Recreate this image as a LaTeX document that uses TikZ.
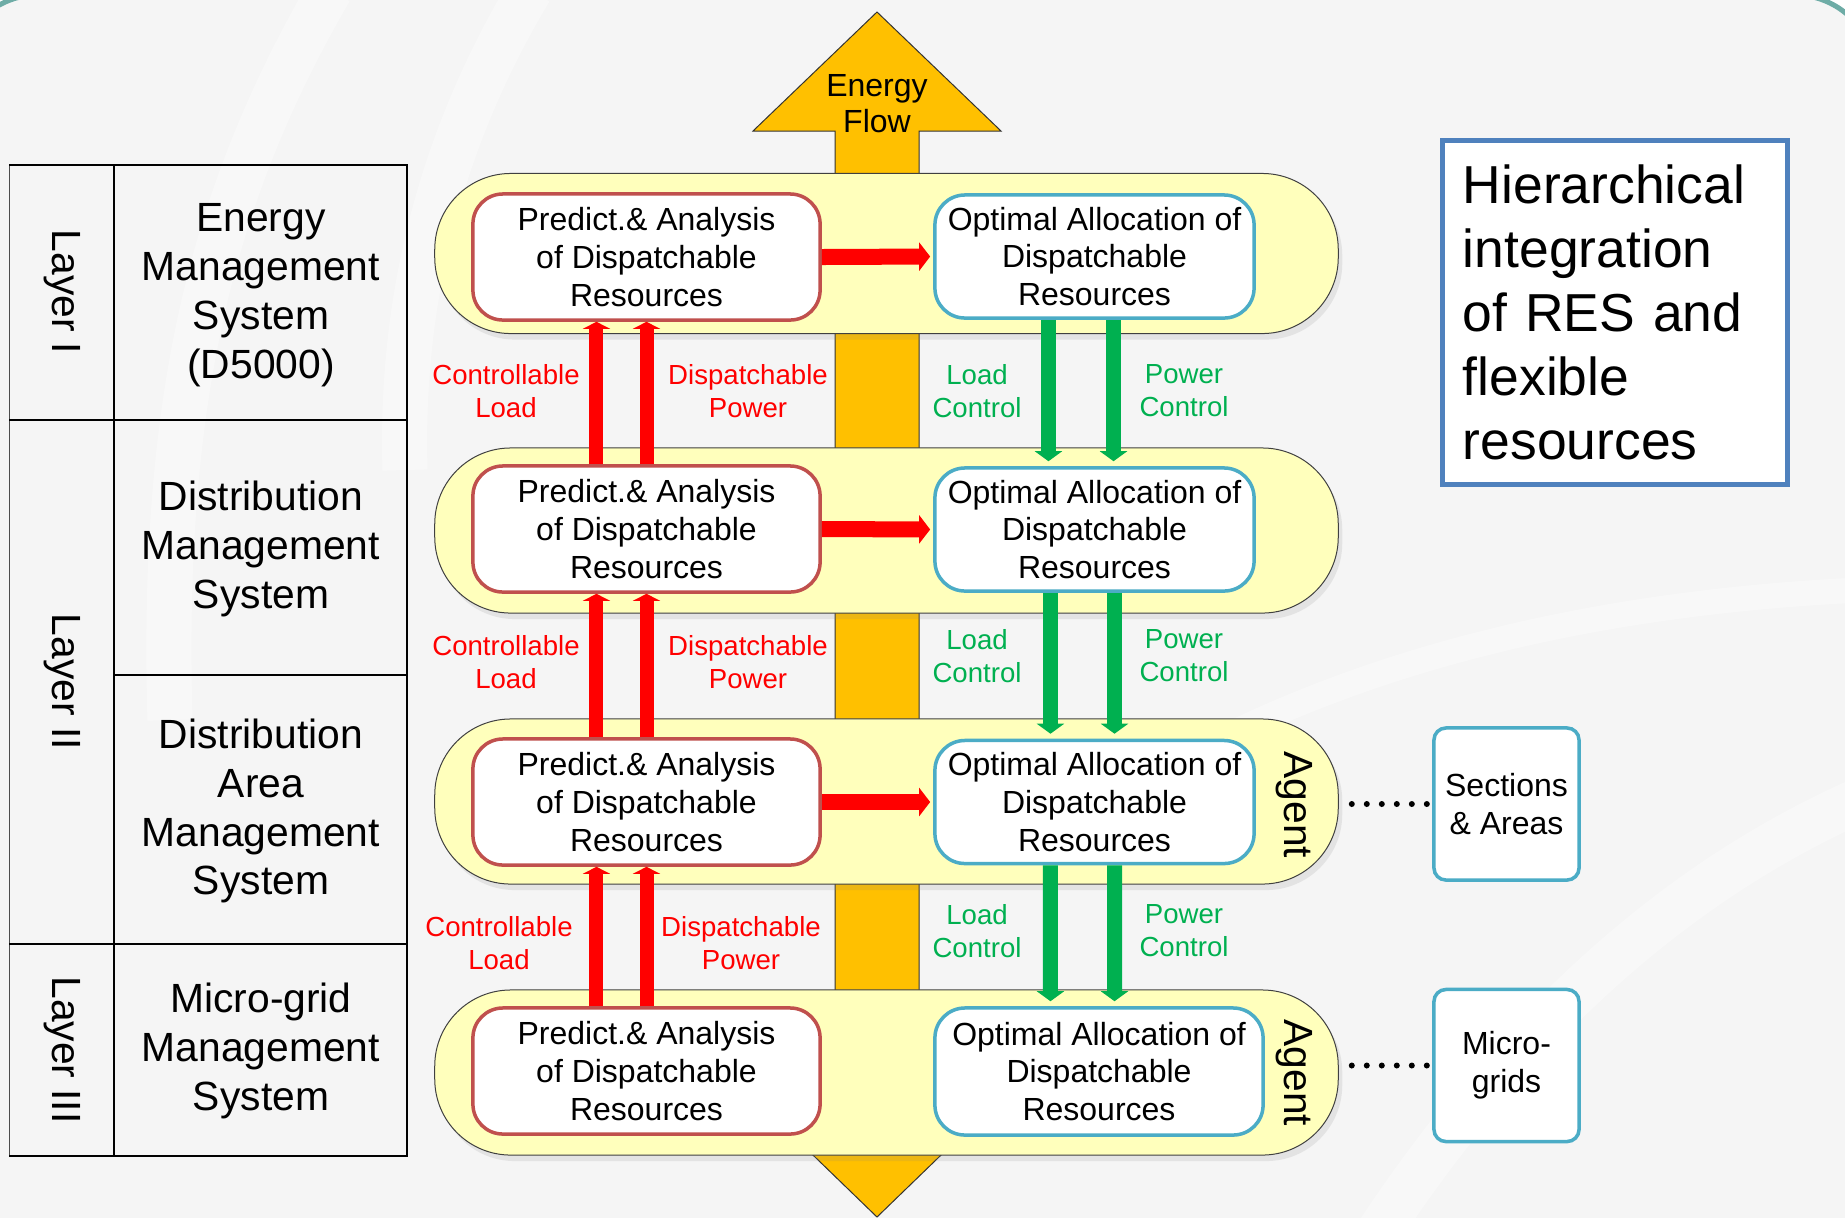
\documentclass[tikz,border=0pt]{standalone}
\usepackage{fontspec}
\setmainfont{Liberation Sans}
\usetikzlibrary{arrows.meta,shadows}

\definecolor{sfondo}{RGB}{245,245,245}
\definecolor{cornice}{RGB}{110,172,166}
\definecolor{giallo}{RGB}{255,255,188}
\definecolor{arancio}{RGB}{255,192,0}
\definecolor{rossobordo}{RGB}{192,80,77}
\definecolor{azzurro}{RGB}{75,172,198}
\definecolor{blutitolo}{RGB}{79,129,189}
\definecolor{verde}{RGB}{0,176,80}

\begin{document}
\begin{tikzpicture}[x=0.01cm, y=-0.01cm,
    bigtext/.style={font=\fontsize{11.6}{13.9}\selectfont, align=center},
    lbl/.style={font=\fontsize{7.85}{9.4}\selectfont, align=center},
    band/.style={draw=black!75, line width=0.01cm, fill=giallo, rounded corners=0.76cm,
      minimum width=9.03cm, drop shadow={shadow xshift=0.04cm, shadow yshift=-0.06cm, opacity=0.15}},
    predbox/.style={draw=rossobordo, line width=0.035cm, fill=white, rounded corners=0.3cm,
      minimum width=3.47cm, minimum height=1.26cm, inner sep=0pt,
      font=\fontsize{9.1}{10.7}\selectfont, align=center},
    optbox/.style={predbox, draw=azzurro, minimum width=3.19cm, minimum height=1.23cm},
    sidebox/.style={draw=azzurro, line width=0.035cm, fill=white, rounded corners=0.12cm,
      minimum width=1.45cm, minimum height=1.52cm, inner sep=0pt,
      font=\fontsize{9.1}{10.7}\selectfont, align=center},
    hred/.style={draw=red, line width=0.16cm, -{Triangle[width=0.28cm,length=0.11cm]}, shorten >=0.03cm},
    upred/.style={draw=red, line width=0.14cm, -{Triangle[width=0.27cm,length=0.07cm]}},
    downgreen/.style={draw=verde, line width=0.15cm, -{Triangle[width=0.27cm,length=0.1cm]}, shorten >=0.05cm},
    puntini/.style={line width=0.06cm, line cap=round, dash pattern=on 0pt off 0.15cm,
      shorten <=0.13cm, shorten >=0.05cm},
    swoosh/.style={draw=white, line width=0.45cm, opacity=0.35}]

  \useasboundingbox (0,0) rectangle (1845,1217);

  % Sfondo
  \fill[white] (0,0) rectangle (1845,1217);
  \fill[sfondo, rounded corners=0.8cm] (-42,-5) rectangle (1875,1300);
  \draw[cornice, line width=0.05cm, rounded corners=0.8cm] (-42,-5) rectangle (1875,1300);
  \draw[swoosh] (330,-10) .. controls (220,180) and (160,380) .. (170,720);
  \draw[swoosh] (530,-10) .. controls (440,140) and (400,300) .. (405,470);
  \draw[swoosh] (1380,1230) .. controls (1520,1020) and (1680,880) .. (1860,800);
  \draw[swoosh, line width=0.25cm] (1180,760) .. controls (1400,640) and (1650,600) .. (1860,590);

  % Freccia del flusso di energia
  \draw[fill=arancio, draw=black!80, line width=0.01cm] (877,12) -- (1001,131) -- (919,131) -- (919,1097)
    -- (1001,1097) -- (877,1217) -- (753,1097) -- (835,1097) -- (835,131) -- (753,131) -- cycle;
  \node[font=\fontsize{9.1}{10.2}\selectfont, align=center] (flusso) at (877,104) {Energy\\Flow};

  % Tabella dei livelli
  \draw[black!70, line width=0.01cm] (9,165) -- (9,1156);
  \draw[line width=0.015cm] (9,165) -- (407,165) -- (407,1156) -- (9,1156);
  \draw[line width=0.015cm] (114,165) -- (114,1156);
  \draw[line width=0.015cm] (9,420) -- (407,420);
  \draw[line width=0.015cm] (114,675) -- (407,675);
  \draw[line width=0.015cm] (9,944) -- (407,944);
  \node[bigtext, rotate=-90] (lay1) at (62,292) {Layer I};
  \node[bigtext, rotate=-90] (lay2) at (62,682) {Layer II};
  \node[bigtext, rotate=-90] (lay3) at (62,1050) {Layer III};
  \node[bigtext] (ems) at (261,295) {Energy\\Management\\System\\(D5000)};
  \node[bigtext] (dms) at (261,549) {Distribution\\Management\\System};
  \node[bigtext] (dams) at (261,811) {Distribution\\Area\\Management\\System};
  \node[bigtext] (mgms) at (261,1051) {Micro-grid\\Management\\System};

  % Fasce gialle
  \node[band, minimum height=1.6cm] (band1) at (886.5,253.5) {};
  \node[band, minimum height=1.65cm] (band2) at (886.5,530.5) {};
  \node[band, minimum height=1.65cm] (band3) at (886.5,801.5) {};
  \node[band, minimum height=1.65cm] (band4) at (886.5,1072.5) {};

  % Blocchi di previsione e di allocazione
  \node[predbox] (pred1) at (646.5,257) {Predict.\& Analysis\\of Dispatchable\\Resources};
  \node[predbox] (pred2) at (646.5,529) {Predict.\& Analysis\\of Dispatchable\\Resources};
  \node[predbox] (pred3) at (646.5,802) {Predict.\& Analysis\\of Dispatchable\\Resources};
  \node[predbox] (pred4) at (646.5,1071) {Predict.\& Analysis\\of Dispatchable\\Resources};
  \node[optbox] (opt1) at (1094.5,256.5) {Optimal Allocation of\\Dispatchable\\Resources};
  \node[optbox] (opt2) at (1094.5,529.5) {Optimal Allocation of\\Dispatchable\\Resources};
  \node[optbox] (opt3) at (1094.5,802) {Optimal Allocation of\\Dispatchable\\Resources};
  \node[optbox, minimum width=3.28cm, minimum height=1.27cm] (opt4) at (1099,1071.5) {Optimal Allocation of\\Dispatchable\\Resources};

  % Frecce orizzontali
  \draw[hred] (pred1.east) -- (opt1.west);
  \draw[hred] (pred2.east) -- (opt2.west);
  \draw[hred] (pred3.east) -- (opt3.west);

  % Frecce rosse verso l'alto
  \draw[upred] ([xshift=-0.5cm]pred2.north) -- ([xshift=-0.5cm]pred1.south); % carico controllabile
  \draw[upred] (pred2.north) -- (pred1.south); % potenza dispacciabile
  \draw[upred] ([xshift=-0.5cm]pred3.north) -- ([xshift=-0.5cm]pred2.south);
  \draw[upred] (pred3.north) -- (pred2.south);
  \draw[upred] ([xshift=-0.5cm]pred4.north) -- ([xshift=-0.5cm]pred3.south);
  \draw[upred] (pred4.north) -- (pred3.south);

  % Frecce verdi verso il basso
  \draw[downgreen] ([xshift=-0.46cm]opt1.south) -- ([xshift=-0.46cm]opt2.north); % controllo del carico
  \draw[downgreen] ([xshift=0.19cm]opt1.south) -- ([xshift=0.19cm]opt2.north); % controllo della potenza
  \draw[downgreen] ([xshift=-0.44cm]opt2.south) -- ([xshift=-0.44cm]opt3.north);
  \draw[downgreen] ([xshift=0.2cm]opt2.south) -- ([xshift=0.2cm]opt3.north);
  \draw[downgreen] ([xshift=-0.44cm]opt3.south) -- ([xshift=-0.485cm]opt4.north);
  \draw[downgreen] ([xshift=0.2cm]opt3.south) -- ([xshift=0.155cm]opt4.north);

  % Etichette delle frecce
  \node[lbl, text=red] (cl1) at (506,391) {Controllable\\Load};
  \node[lbl, text=red] (dp1) at (748,391) {Dispatchable\\Power};
  \node[lbl, text=verde] (lc1) at (977,391) {Load\\Control};
  \node[lbl, text=verde] (pc1) at (1184,391) {Power\\Control};
  \node[lbl, text=red] (cl2) at (506,662) {Controllable\\Load};
  \node[lbl, text=red] (dp2) at (748,662) {Dispatchable\\Power};
  \node[lbl, text=verde] (lc2) at (977,656) {Load\\Control};
  \node[lbl, text=verde] (pc2) at (1184,656) {Power\\Control};
  \node[lbl, text=red] (cl3) at (499,943) {Controllable\\Load};
  \node[lbl, text=red] (dp3) at (741,943) {Dispatchable\\Power};
  \node[lbl, text=verde] (lc3) at (977,931) {Load\\Control};
  \node[lbl, text=verde] (pc3) at (1184,931) {Power\\Control};

  % Agenti e blocchi laterali
  \node[bigtext, rotate=-90] (ag3) at (1294,805) {Agent};
  \node[bigtext, rotate=-90] (ag4) at (1294,1073) {Agent};
  \node[sidebox] (side1) at (1506.5,804) {Sections\\\& Areas};
  \node[sidebox] (side2) at (1506.5,1065.5) {Micro-\\grids};
  \draw[puntini] (band3.east |- side1.west) -- (side1.west);
  \draw[puntini] (band4.east |- side2.west) -- (side2.west);

  % Titolo
  \node[draw=blutitolo, line width=0.05cm, fill=white, minimum width=3.44cm, minimum height=3.43cm,
    text width=3.04cm, inner xsep=0.2cm, align=left, font=\fontsize{15.2}{18.2}\selectfont]
    (titolo) at (1615,312.5) {Hierarchical\\integration\\of RES and\\flexible\\resources};
\end{tikzpicture}
\end{document}
